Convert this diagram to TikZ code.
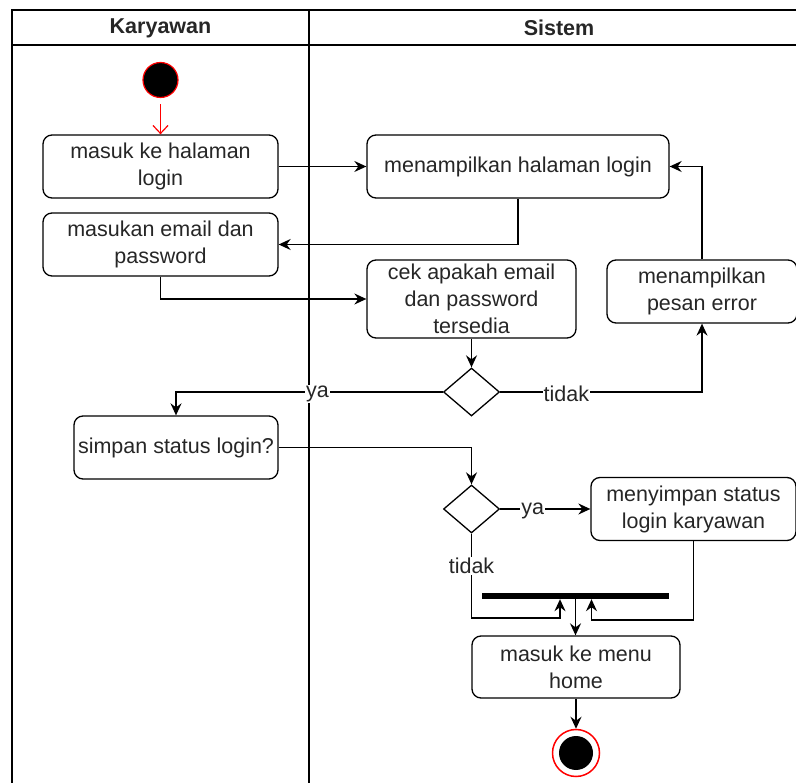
\documentclass[tikz,border=0pt]{standalone}
\usepackage{fontspec}
\setmainfont{Liberation Sans}
\usetikzlibrary{arrows.meta,shapes.geometric}
\begin{document}
\begin{tikzpicture}[x=1pt,y=-1pt,
  font=\fontsize{21.5}{27}\selectfont,
  act/.style={draw, rounded corners=9pt, line width=1.3pt, align=center,
    inner sep=0pt, text=black!85},
  dec/.style={draw, diamond, line width=1.3pt, inner sep=0pt,
    minimum width=56pt, minimum height=48pt},
  flow/.style={line width=1.4pt, -{Stealth[length=12pt,width=11pt,inset=4pt]}},
  lbl/.style={fill=white, inner sep=1pt, text=black!85},
  lane/.style={line width=2pt},
  head/.style={font=\fontsize{21.5}{27}\selectfont\bfseries, text=black!85}
]
\useasboundingbox (0,0) rectangle (796,783);
\clip (0,0) rectangle (796,783);

% swimlanes
\draw[lane] (12,795) -- (12,10) -- (815,10);
\draw[lane] (12,45) -- (815,45);
\draw[lane] (309,10) -- (309,795);
\node[head] (hk) at (160.5,28) {Karyawan};
\node[head] (hs) at (559,28) {Sistem};

% start / end
\node[circle, draw=red, line width=1.2pt, fill=black, minimum size=35pt, inner sep=0pt] (start) at (160.5,80) {};
\node[circle, draw=red, line width=1.5pt, fill=white, minimum size=47pt, inner sep=0pt] (stop) at (576,753) {};
\node[circle, fill=black, minimum size=34pt, inner sep=0pt] (stopin) at (576,753) {};

% activities
\node[act, minimum width=235pt, minimum height=63pt] (b1) at (160.5,166.5) {masuk ke halaman\\login};
\node[act, minimum width=235pt, minimum height=63pt] (b2) at (160.5,244.5) {masukan email dan\\password};
\node[act, minimum width=302pt, minimum height=63pt] (b3) at (518,166.5) {menampilkan halaman login};
\node[act, minimum width=209pt, minimum height=78pt] (b4) at (471.5,299) {cek apakah email\\dan password\\tersedia};
\node[act, minimum width=190pt, minimum height=63pt] (b5) at (702,291.5) {menampilkan\\pesan error};
\node[act, minimum width=204pt, minimum height=63pt] (b7) at (176,447.5) {simpan status login?};
\node[act, minimum width=205pt, minimum height=63pt] (b9) at (693.5,509) {menyimpan status\\login karyawan};
\node[act, minimum width=208pt, minimum height=62pt] (b10) at (576,667) {masuk ke menu\\home};

% decisions and join bar
\node[dec] (d1) at (471.5,392) {};
\node[dec] (d2) at (471.5,509) {};
\node[fill=black, minimum width=187pt, minimum height=6pt, inner sep=0pt] (bar) at (575.5,596) {};

% flows
\draw[red, line width=1.2pt, shorten <=6pt, -{Straight Barb[length=8pt,width=15pt]}] (start.south) -- (b1.north);
\draw[flow] (b1.east) -- (b3.west);
\draw[flow] (b3.south) |- (b2.east);
\draw[flow] (b2.south) |- (b4.west);
\draw[flow] (b4.south) -- (d1.north);
\draw[flow] (d1.west) -| node[lbl, pos=0.235, yshift=-2pt] (lya1) {ya} (b7.north);
\draw[flow] (d1.east) -| node[lbl, pos=0.164, yshift=-2pt] (ltd1) {tidak} (b5.south);
\draw[flow] (b5.north) |- (b3.east);
\draw[flow] (b7.east) -| (d2.north);
\draw[flow] (d2.east) -- node[lbl, pos=0.36, yshift=-2pt] (lya2) {ya} (b9.west);
\draw[flow] (d2.south) -- node[lbl, pos=0.38] (ltd2) {tidak} (d2.south |- 0,618) -| ([xshift=-15.5pt]bar.south);
\draw[flow] (b9.south) -- (b9.south |- 0,620) -| ([xshift=16pt]bar.south);
\draw[flow] (bar.south) -- (bar.south |- b10.north);
\draw[flow] (b10.south) -- (stop.north);
\end{tikzpicture}
\end{document}
